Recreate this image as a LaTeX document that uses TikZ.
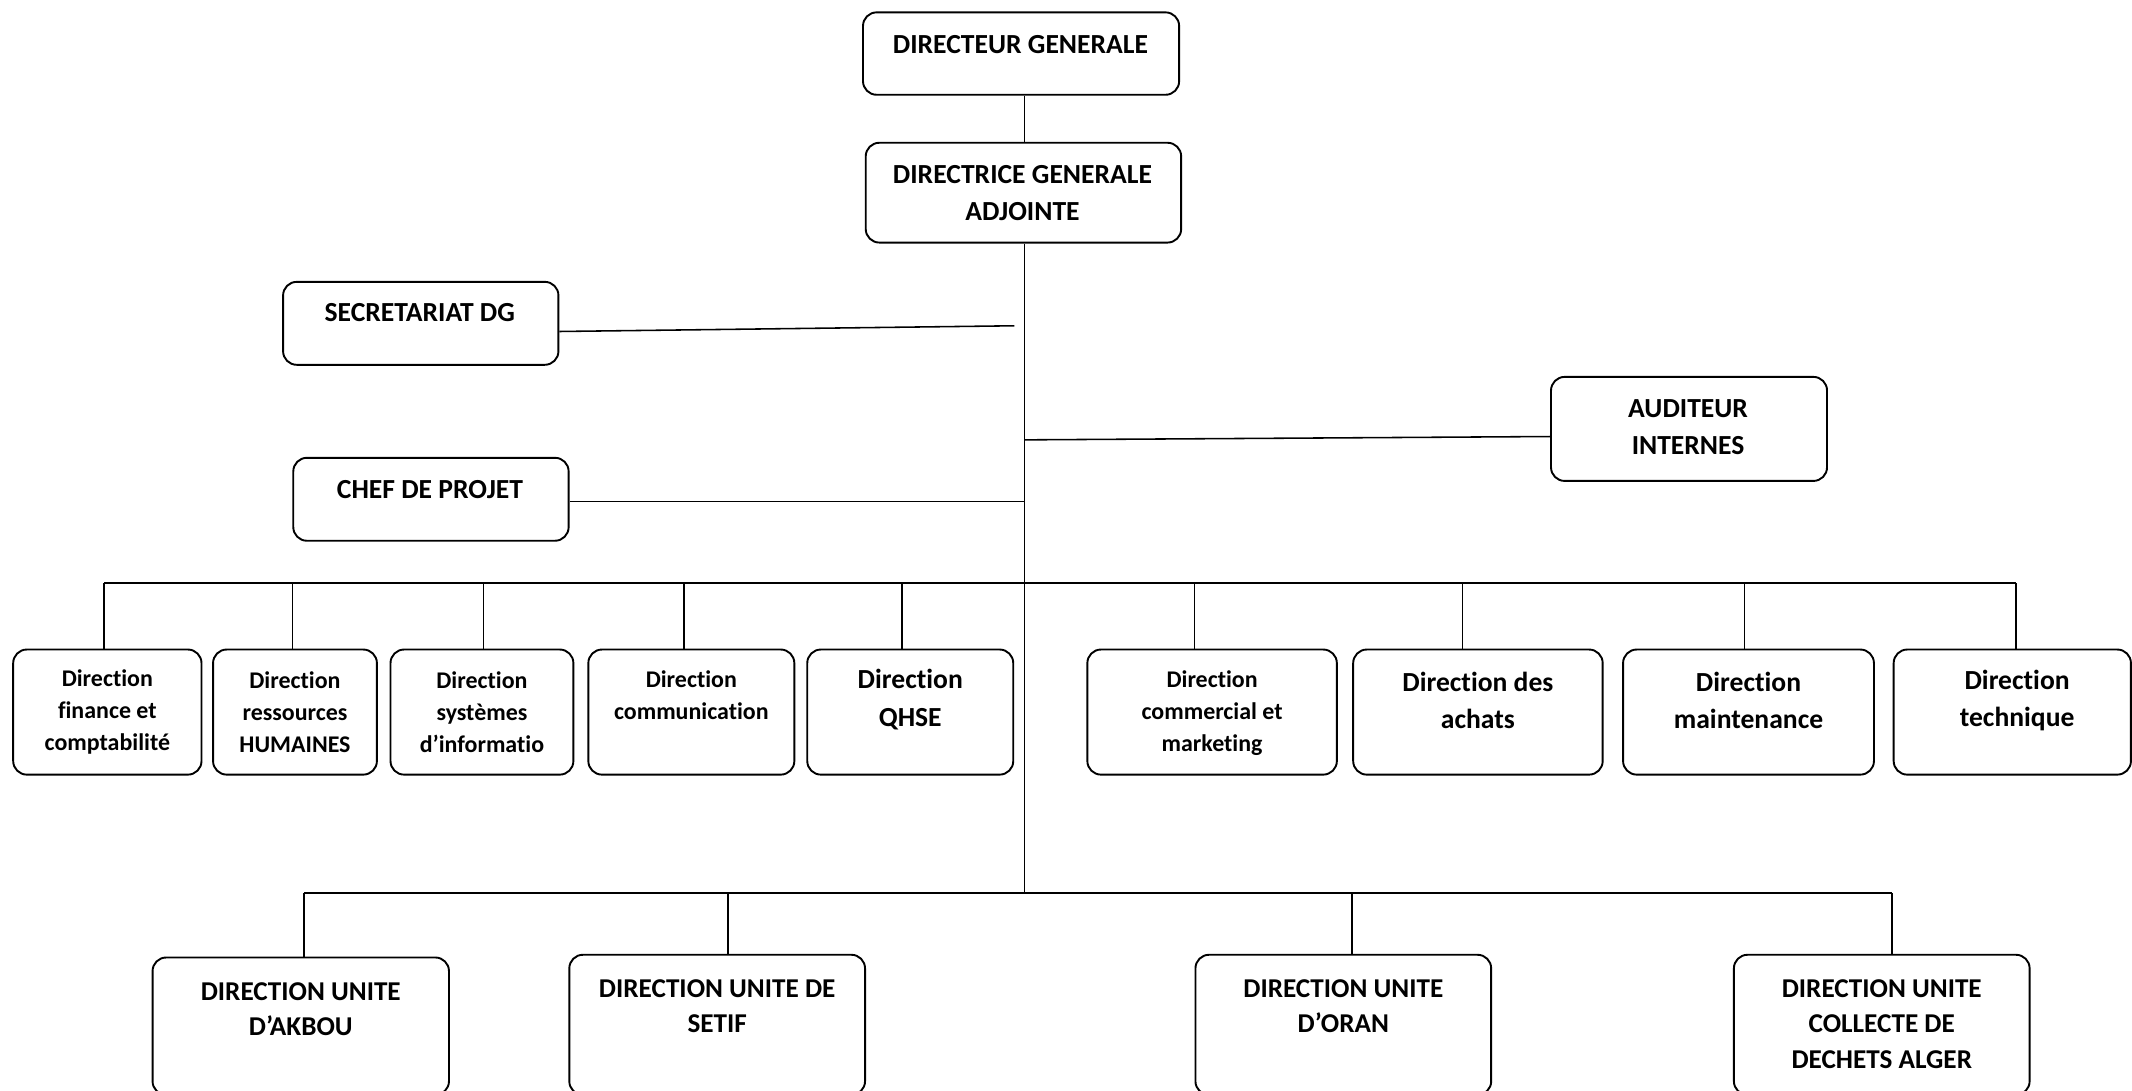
\documentclass[tikz,border=0pt]{standalone}
\usepackage{fontspec}
\setmainfont{Carlito}[Ligatures=NoCommon]
\begin{document}
\begin{tikzpicture}[x=1pt,y=-1pt,
  box/.style={draw, line width=1.4pt, rounded corners=10pt, anchor=north west, inner sep=0pt},
  big/.style={font=\fontsize{20.3}{27.5}\selectfont\bfseries, align=center, inner sep=0pt},
  small/.style={font=\fontsize{17.6}{23.5}\selectfont\bfseries, align=center, inner sep=0pt},
  unit/.style={font=\fontsize{20}{26}\selectfont\bfseries, align=center, inner sep=0pt},
  link/.style={line width=1.15pt},
  busline/.style={line width=1.6pt}]
\useasboundingbox (0,0) rectangle (1568,802);
\clip (0,0) rectangle (1568,802);
% top boxes
\node[box, minimum width=232.5pt, minimum height=60.6pt] (dg) at (634,8.4) {};
\node[big] (dgt) at (750.5,32.5) {DIRECTEUR GENERALE};
\node[box, minimum width=232pt, minimum height=73.4pt] (dga) at (636,104.3) {};
\node[big] (dgat) at (752,142) {DIRECTRICE GENERALE\\ADJOINTE};
\node[box, minimum width=202.5pt, minimum height=61pt] (sec) at (207.5,206.6) {};
\node[big] (sect) at (308.75,230) {SECRETARIAT DG};
\node[box, minimum width=203pt, minimum height=76.5pt] (aud) at (1140,276.5) {};
\node[big] (audt) at (1241.5,314) {AUDITEUR\\INTERNES};
\node[box, minimum width=202.5pt, minimum height=61pt] (chef) at (215,336) {};
\node[big] (cheft) at (316.25,360) {CHEF DE PROJET};
% row of directions
\node[box, minimum width=138.5pt, minimum height=92pt] (f1) at (9,477) {};
\node[small] (f1t) at (f1.center |- 0,523.5) {Direction\\finance et\\comptabilité};
\node[box, minimum width=120.5pt, minimum height=92pt] (f2) at (156,477) {};
\node[small] (f2t) at (f2.center |- 0,523.5) {Direction\\ressources\\HUMAINES};
\node[box, minimum width=134.5pt, minimum height=92pt] (f3) at (286.5,477) {};
\node[small] (f3t) at (f3.center |- 0,523.5) {Direction\\systèmes\\d’informatio};
\node[box, minimum width=151.5pt, minimum height=92pt] (f4) at (432,477) {};
\node[small] (f4t) at (f4.center |- 0,511.5) {Direction\\communication};
\node[box, minimum width=151.5pt, minimum height=92pt] (f5) at (593,477) {};
\node[big] (f5t) at (f5.center |- 0,514.5) {Direction\\QHSE};
\node[box, minimum width=183.5pt, minimum height=92pt] (f6) at (799,477) {};
\node[small] (f6t) at (f6.center |- 0,524.5) {Direction\\commercial et\\marketing};
\node[box, minimum width=183.5pt, minimum height=92pt] (f7) at (994.5,477) {};
\node[big] (f7t) at (f7.center |- 0,515) {Direction des\\achats};
\node[box, minimum width=184.5pt, minimum height=92pt] (f8) at (1193,477) {};
\node[big] (f8t) at (f8.center |- 0,515) {Direction\\maintenance};
\node[box, minimum width=174.5pt, minimum height=92pt] (f9) at (1392,477) {};
\node[big] (f9t) at (1483.5,515) {Direction\\technique};
% units
\node[box, minimum width=218pt, minimum height=101pt] (u1) at (111.5,703.5) {};
\node[unit] (u1t) at (u1.center |- 0,742) {DIRECTION UNITE\\D’AKBOU};
\node[box, minimum width=217.5pt, minimum height=103pt] (u2) at (418,701.5) {};
\node[unit] (u2t) at (u2.center |- 0,740) {DIRECTION UNITE DE\\SETIF};
\node[box, minimum width=217.5pt, minimum height=103pt] (u3) at (878.5,701.5) {};
\node[unit] (u3t) at (u3.center |- 0,740) {DIRECTION UNITE\\D’ORAN};
\node[box, minimum width=217.5pt, minimum height=103pt] (u4) at (1274.5,701.5) {};
\node[unit] (u4t) at (u4.center |- 0,753.2) {DIRECTION UNITE\\COLLECTE DE\\DECHETS ALGER};
% coordinates
\coordinate (trunk) at (753.5,0);
\coordinate (busL) at (76.5,429);
\coordinate (busR) at (1482.5,429);
\coordinate (bus2L) at (223.5,656.7);
\coordinate (bus2R) at (1391.5,656.7);
\coordinate (secend) at (746,239.6);
% connectors
\draw[link] (dg.south -| trunk) -- (dga.north -| trunk);
\draw[link] (dga.south -| trunk) -- (trunk |- bus2L);
\draw[link] ([yshift=-6pt]sec.east) -- (secend);
\draw[link] (trunk |- 0,323.5) -- ([yshift=-5.6pt]aud.west);
\draw[link] ([yshift=-1.7pt]chef.east) -- ([yshift=-1.7pt]chef.east -| trunk);
\draw[busline] (busL) -- (busR);
\draw[busline] (bus2L) -- (bus2R);
\foreach \n/\x in {f1/76.5,f2/215,f3/355.5,f4/503,f5/663.5,f6/878.5,f7/1075.5,f8/1283,f9/1482.5}{
  \draw[link] (\x,429) -- (\n.north -| \x,0);
}
\foreach \n/\x in {u1/223.5,u2/535.5,u3/994.5,u4/1391.5}{
  \draw[link] (\x,656.7) -- (\n.north -| \x,0);
}
\end{tikzpicture}
\end{document}
